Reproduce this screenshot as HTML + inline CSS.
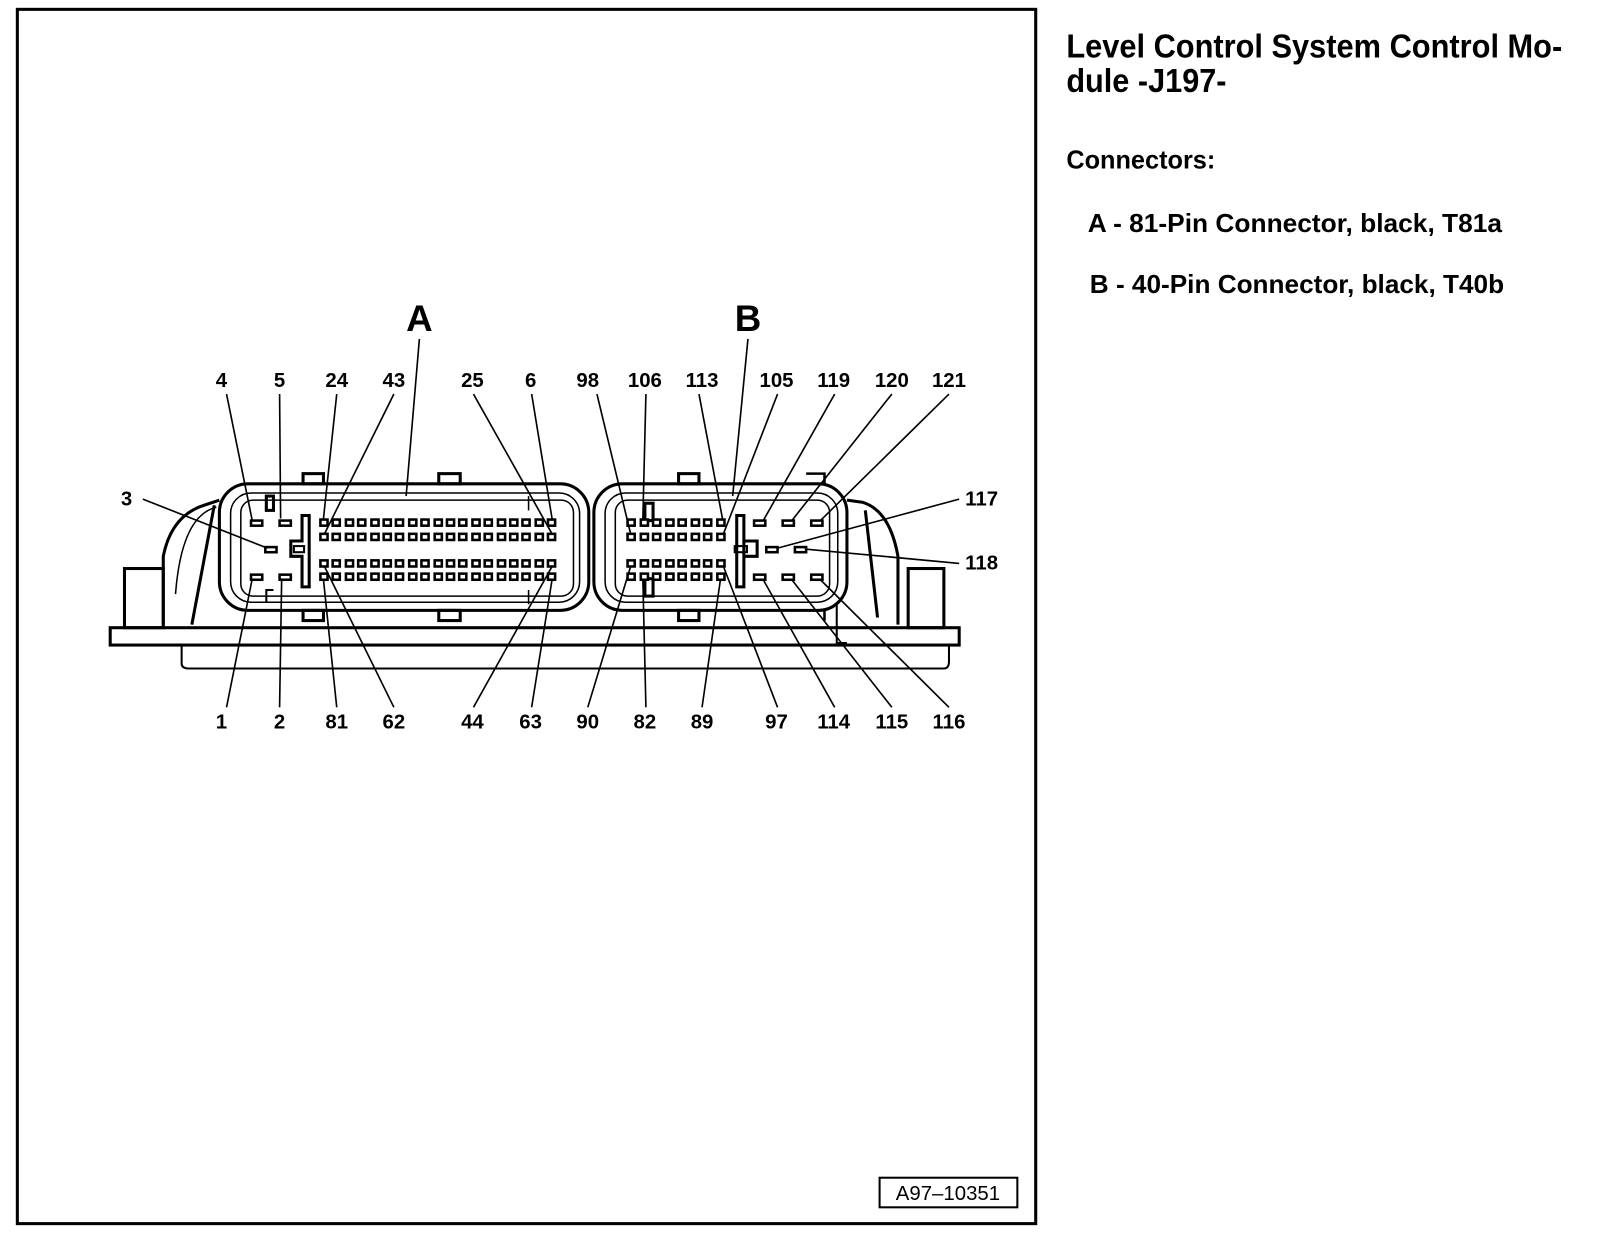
<!DOCTYPE html>
<html><head><meta charset="utf-8"><style>
html,body{margin:0;padding:0;background:#fff;}
svg{display:block;}
text{font-family:"Liberation Sans",Arial,sans-serif;font-weight:bold;fill:#000;}
</style></head><body>
<svg width="1600" height="1234" viewBox="0 0 1568 1209" xmlns="http://www.w3.org/2000/svg">
<rect x="17" y="9" width="998" height="1190" fill="none" stroke="#000" stroke-width="3"/>
<rect x="862" y="1154" width="135" height="29" fill="none" stroke="#000" stroke-width="2"/>
<text x="929" y="1176" font-size="20" font-weight="normal" style="font-weight:normal" text-anchor="middle">A97–10351</text>

<text x="1045" y="56" font-size="33" textLength="486" lengthAdjust="spacingAndGlyphs">Level Control System Control Mo-</text>
<text x="1045" y="90" font-size="33" textLength="157" lengthAdjust="spacingAndGlyphs">dule -J197-</text>
<text x="1045" y="165" font-size="25" textLength="146" lengthAdjust="spacingAndGlyphs">Connectors:</text>
<text x="1066" y="227" font-size="25" textLength="406" lengthAdjust="spacingAndGlyphs">A - 81-Pin Connector, black, T81a</text>
<text x="1068" y="287" font-size="25" textLength="406" lengthAdjust="spacingAndGlyphs">B - 40-Pin Connector, black, T40b</text>

<g fill="none" stroke="#000">
<!-- base plate -->
<rect x="108" y="615" width="832" height="17" stroke-width="3"/>
<path d="M178 632 V650 Q178 655 185 655 H925 Q930 655 930 648 V632" stroke-width="2"/>
<rect x="122" y="557" width="38" height="58" stroke-width="3"/>
<rect x="890" y="557" width="35" height="58" stroke-width="3"/>
<!-- left shell -->
<path d="M160 612 V545 Q168 505 200 495 L215 490" stroke-width="3"/>
<path d="M172 582 Q178 505 212 497" stroke-width="1.5"/>
<path d="M188 612 L210 495" stroke-width="3"/>
<!-- right shell -->
<path d="M880 612 V545 Q872 500 845 492 L830 490" stroke-width="3"/>
<path d="M860 605 L848 500" stroke-width="3"/>
<path d="M820 590 V630 H830" stroke-width="2"/>
<!-- housing A -->
<rect x="215" y="474" width="362" height="124" rx="28" stroke-width="3"/>
<rect x="226" y="483" width="342" height="107" rx="20" stroke-width="1.5"/>
<rect x="236" y="490" width="326" height="94" rx="12" stroke-width="1.5"/>
<rect x="297" y="464" width="20" height="10" stroke-width="3"/>
<rect x="430" y="464" width="21" height="10" stroke-width="3"/>
<rect x="297" y="598" width="20" height="10" stroke-width="3"/>
<rect x="430" y="598" width="21" height="10" stroke-width="3"/>
<rect x="261" y="486" width="7" height="14" stroke-width="3"/>
<path d="M261 590 V578 H268" stroke-width="2"/>
<path d="M518 486 V500 M518 578 V592" stroke-width="1.5"/>
<!-- T key A -->
<path d="M296 505 H303 V575 H296 V545 H285 V530 H296 Z" stroke-width="3"/>
<rect x="288" y="535" width="10" height="6" stroke-width="2"/>
<!-- housing B -->
<rect x="582" y="474" width="248" height="124" rx="28" stroke-width="3"/>
<rect x="593" y="483" width="228" height="107" rx="20" stroke-width="1.5"/>
<rect x="603" y="490" width="210" height="94" rx="12" stroke-width="1.5"/>
<rect x="665" y="464" width="20" height="10" stroke-width="3"/>
<rect x="665" y="598" width="20" height="10" stroke-width="3"/>
<rect x="632" y="493" width="8" height="17" stroke-width="3"/>
<rect x="632" y="567" width="8" height="17" stroke-width="3"/>
<path d="M790 464 H808 V474 M790 598 H808 V608" stroke-width="2.5"/>
<!-- T key B -->
<path d="M722 505 H729 V575 H722 Z M729 530 H742 V545 H729" stroke-width="3"/>
<rect x="720" y="535" width="12" height="6" stroke-width="2"/>
</g>

<g fill="#fff" stroke="#000" stroke-width="2.5">
<!-- A grid -->
<g id="rowA">
<rect x="314" y="509" width="7" height="6"/><rect x="326" y="509" width="7" height="6"/><rect x="339" y="509" width="7" height="6"/><rect x="351" y="509" width="7" height="6"/><rect x="364" y="509" width="7" height="6"/><rect x="376" y="509" width="7" height="6"/><rect x="388" y="509" width="7" height="6"/><rect x="401" y="509" width="7" height="6"/><rect x="413" y="509" width="7" height="6"/><rect x="426" y="509" width="7" height="6"/><rect x="438" y="509" width="7" height="6"/><rect x="450" y="509" width="7" height="6"/><rect x="463" y="509" width="7" height="6"/><rect x="475" y="509" width="7" height="6"/><rect x="488" y="509" width="7" height="6"/><rect x="500" y="509" width="7" height="6"/><rect x="512" y="509" width="7" height="6"/><rect x="525" y="509" width="7" height="6"/><rect x="537" y="509" width="7" height="6"/>
</g>
<use href="#rowA" y="14"/><use href="#rowA" y="40"/><use href="#rowA" y="53"/>
<g id="rowB">
<rect x="615" y="509" width="7" height="6"/><rect x="628" y="509" width="7" height="6"/><rect x="640" y="509" width="7" height="6"/><rect x="653" y="509" width="7" height="6"/><rect x="665" y="509" width="7" height="6"/><rect x="678" y="509" width="7" height="6"/><rect x="690" y="509" width="7" height="6"/><rect x="703" y="509" width="7" height="6"/>
</g>
<use href="#rowB" y="14"/><use href="#rowB" y="40"/><use href="#rowB" y="53"/>
<!-- aux A -->
<rect x="246" y="510" width="11" height="5"/><rect x="274" y="510" width="11" height="5"/>
<rect x="260" y="536" width="11" height="5"/>
<rect x="246" y="563" width="11" height="5"/><rect x="274" y="563" width="11" height="5"/>
<!-- aux B -->
<rect x="739" y="510" width="11" height="5"/><rect x="767" y="510" width="11" height="5"/><rect x="795" y="510" width="11" height="5"/>
<rect x="751" y="536" width="11" height="5"/><rect x="779" y="536" width="11" height="5"/>
<rect x="739" y="563" width="11" height="5"/><rect x="767" y="563" width="11" height="5"/><rect x="795" y="563" width="11" height="5"/>
</g>

<!-- leader lines -->
<g stroke="#000" stroke-width="1.6" fill="none">
<line x1="222" y1="386" x2="247" y2="509"/>
<line x1="274" y1="386" x2="275" y2="508"/>
<line x1="330" y1="386" x2="317" y2="508"/>
<line x1="386" y1="386" x2="318" y2="523"/>
<line x1="411" y1="332" x2="398" y2="486"/>
<line x1="464" y1="386" x2="541" y2="523"/>
<line x1="521" y1="386" x2="541" y2="508"/>
<line x1="585" y1="386" x2="618" y2="523"/>
<line x1="633" y1="386" x2="630" y2="508"/>
<line x1="685" y1="386" x2="708" y2="508"/>
<line x1="762" y1="386" x2="709" y2="523"/>
<line x1="733" y1="332" x2="718" y2="486"/>
<line x1="818" y1="386" x2="748" y2="510"/>
<line x1="874" y1="386" x2="776" y2="510"/>
<line x1="930" y1="386" x2="804" y2="510"/>
<line x1="140" y1="489" x2="262" y2="537"/>
<line x1="940" y1="489" x2="762" y2="537"/>
<line x1="940" y1="552" x2="790" y2="538"/>
<line x1="222" y1="693" x2="247" y2="568"/>
<line x1="274" y1="693" x2="276" y2="569"/>
<line x1="330" y1="693" x2="317" y2="568"/>
<line x1="386" y1="693" x2="318" y2="555"/>
<line x1="464" y1="693" x2="541" y2="555"/>
<line x1="521" y1="693" x2="541" y2="568"/>
<line x1="576" y1="693" x2="618" y2="555"/>
<line x1="633" y1="693" x2="630" y2="568"/>
<line x1="688" y1="693" x2="706" y2="568"/>
<line x1="762" y1="693" x2="709" y2="555"/>
<line x1="818" y1="693" x2="748" y2="568"/>
<line x1="874" y1="693" x2="776" y2="568"/>
<line x1="930" y1="693" x2="804" y2="568"/>
</g>

<g font-size="20" text-anchor="middle">
<text x="411" y="324" font-size="36">A</text>
<text x="733" y="324" font-size="36">B</text>
<text x="217" y="379">4</text><text x="274" y="379">5</text><text x="330" y="379">24</text><text x="386" y="379">43</text><text x="463" y="379">25</text><text x="520" y="379">6</text><text x="576" y="379">98</text><text x="632" y="379">106</text><text x="688" y="379">113</text><text x="761" y="379">105</text><text x="817" y="379">119</text><text x="874" y="379">120</text><text x="930" y="379">121</text>
<text x="217" y="714">1</text><text x="274" y="714">2</text><text x="330" y="714">81</text><text x="386" y="714">62</text><text x="463" y="714">44</text><text x="520" y="714">63</text><text x="576" y="714">90</text><text x="632" y="714">82</text><text x="688" y="714">89</text><text x="761" y="714">97</text><text x="817" y="714">114</text><text x="874" y="714">115</text><text x="930" y="714">116</text>
<text x="124" y="495">3</text>
<text x="962" y="495">117</text>
<text x="962" y="558">118</text>
</g>
</svg>
</body></html>
